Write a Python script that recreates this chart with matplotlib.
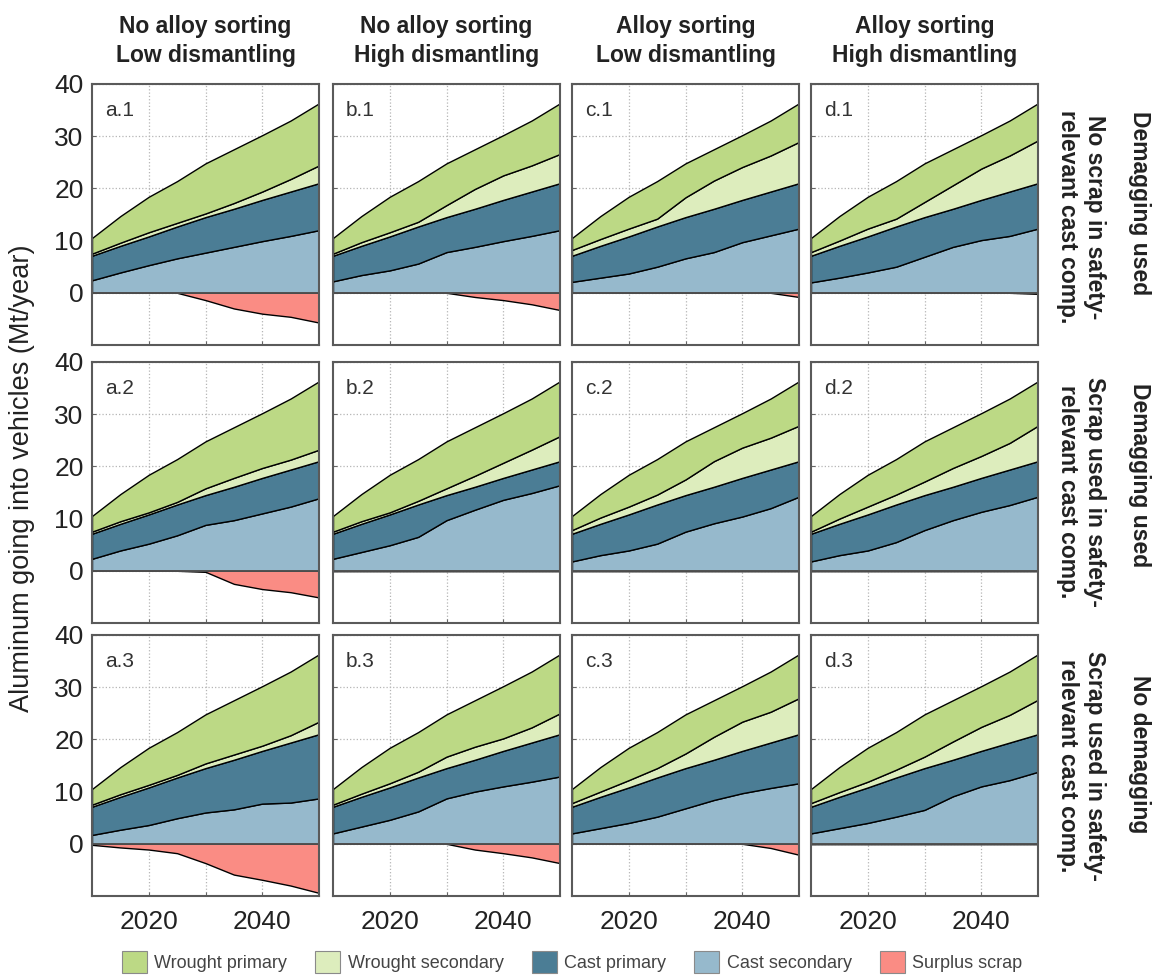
import matplotlib
matplotlib.use("Agg")
import matplotlib.pyplot as plt
from matplotlib.patches import Patch

plt.rcParams['font.family'] = ['Liberation Sans', 'DejaVu Sans']

years = [2010, 2015, 2020, 2025, 2030, 2035, 2040, 2045, 2050]

series_names = ["Wrought primary", "Wrought secondary", "Cast primary",
                "Cast secondary", "Surplus scrap"]
series_colors = ["#BCD985", "#DDEDBD", "#4B7D95", "#96B9CC", "#FA8C84"]

col_titles = ["No alloy sorting\nLow dismantling", "No alloy sorting\nHigh dismantling",
              "Alloy sorting\nLow dismantling", "Alloy sorting\nHigh dismantling"]
row_titles = ["Demagging used", "Demagging used", "No demagging"]
row_notes = ["No scrap in safety-\nrelevant cast comp.",
             "Scrap used in safety-\nrelevant cast comp.",
             "Scrap used in safety-\nrelevant cast comp."]
panel_ids = [["a.1", "b.1", "c.1", "d.1"],
             ["a.2", "b.2", "c.2", "d.2"],
             ["a.3", "b.3", "c.3", "d.3"]]

# Mt/year, one value per entry of `years`
cast_secondary = {
    "a.1": [2.4, 3.9, 5.3, 6.6, 7.7, 8.8, 9.9, 10.9, 12.0],
    "b.1": [2.2, 3.4, 4.3, 5.6, 7.8, 8.8, 9.9, 10.9, 12.0],
    "c.1": [2.1, 2.9, 3.7, 5.0, 6.6, 7.8, 9.7, 11.0, 12.3],
    "d.1": [2.0, 2.9, 3.9, 5.0, 6.9, 8.8, 10.1, 10.9, 12.3],
    "a.2": [2.3, 3.9, 5.2, 6.8, 8.8, 9.7, 11.0, 12.3, 13.9],
    "b.2": [2.3, 3.6, 4.9, 6.5, 9.7, 11.7, 13.6, 14.9, 16.4],
    "c.2": [1.8, 3.0, 3.9, 5.2, 7.5, 9.1, 10.4, 12.0, 14.2],
    "d.2": [1.8, 3.0, 3.9, 5.5, 7.8, 9.7, 11.3, 12.6, 14.2],
    "a.3": [1.7, 2.7, 3.6, 4.9, 6.0, 6.6, 7.7, 7.9, 8.7],
    "b.3": [2.0, 3.3, 4.6, 6.2, 8.7, 10.0, 11.0, 11.9, 12.9],
    "c.3": [2.0, 3.0, 4.0, 5.2, 6.8, 8.4, 9.7, 10.7, 11.6],
    "d.3": [2.0, 3.0, 4.0, 5.2, 6.5, 9.1, 11.0, 12.2, 13.8],
}
cast_primary = {
    "a.1": [4.7, 5.1, 5.5, 6.1, 6.8, 7.3, 7.9, 8.5, 9.0],
    "b.1": [4.9, 5.6, 6.5, 7.1, 6.7, 7.3, 7.9, 8.5, 9.0],
    "c.1": [5.0, 6.1, 7.1, 7.7, 7.9, 8.3, 8.1, 8.4, 8.7],
    "d.1": [5.1, 6.1, 6.9, 7.7, 7.6, 7.3, 7.7, 8.5, 8.7],
    "a.2": [4.8, 5.1, 5.6, 5.9, 5.7, 6.4, 6.8, 7.1, 7.1],
    "b.2": [4.8, 5.4, 5.9, 6.2, 4.8, 4.4, 4.2, 4.5, 4.6],
    "c.2": [5.3, 6.0, 6.9, 7.5, 7.0, 7.0, 7.4, 7.4, 6.8],
    "d.2": [5.3, 6.0, 6.9, 7.2, 6.7, 6.4, 6.5, 6.8, 6.8],
    "a.3": [5.4, 6.3, 7.2, 7.8, 8.5, 9.5, 10.1, 11.5, 12.3],
    "b.3": [5.1, 5.7, 6.2, 6.5, 5.8, 6.1, 6.8, 7.5, 8.1],
    "c.3": [5.1, 6.0, 6.8, 7.5, 7.7, 7.7, 8.1, 8.7, 9.4],
    "d.3": [5.1, 6.0, 6.8, 7.5, 8.0, 7.0, 6.8, 7.2, 7.2],
}
wrought_secondary = {
    "a.1": [0.4, 0.6, 0.8, 0.7, 0.7, 1.1, 1.6, 2.4, 3.4],
    "b.1": [0.4, 0.7, 0.8, 0.9, 2.3, 3.8, 4.7, 5.0, 5.6],
    "c.1": [1.1, 1.3, 1.5, 1.5, 3.8, 5.4, 6.3, 6.9, 7.9],
    "d.1": [0.7, 1.0, 1.5, 1.5, 2.9, 4.5, 6.0, 6.9, 8.2],
    "a.2": [0.4, 0.5, 0.4, 0.5, 1.3, 1.7, 1.9, 1.9, 2.2],
    "b.2": [0.4, 0.5, 0.4, 0.7, 1.3, 2.1, 2.9, 3.8, 4.8],
    "c.2": [0.7, 1.2, 1.5, 1.9, 3.0, 4.9, 5.8, 6.1, 6.8],
    "d.2": [0.4, 1.0, 1.5, 1.9, 2.6, 3.6, 4.2, 5.1, 6.8],
    "a.3": [0.4, 0.5, 0.5, 0.5, 0.9, 1.0, 1.0, 1.4, 2.4],
    "b.3": [0.4, 0.6, 0.8, 1.1, 2.2, 2.5, 2.4, 2.9, 4.0],
    "c.3": [0.7, 1.0, 1.4, 1.8, 2.8, 4.4, 5.6, 5.9, 6.9],
    "d.3": [0.7, 0.9, 1.1, 1.5, 2.2, 3.5, 4.6, 5.3, 6.6],
}
wrought_primary = {
    "a.1": [3.0, 5.1, 6.8, 8.0, 9.6, 10.3, 10.8, 11.2, 11.9],
    "b.1": [3.0, 5.0, 6.8, 7.8, 8.0, 7.6, 7.7, 8.6, 9.7],
    "c.1": [2.3, 4.4, 6.1, 7.2, 6.5, 6.0, 6.1, 6.7, 7.4],
    "d.1": [2.7, 4.7, 6.1, 7.2, 7.4, 6.9, 6.4, 6.7, 7.1],
    "a.2": [3.0, 5.2, 7.2, 8.2, 9.0, 9.7, 10.5, 11.7, 13.1],
    "b.2": [3.0, 5.2, 7.2, 8.0, 9.0, 9.3, 9.5, 9.8, 10.5],
    "c.2": [2.7, 4.5, 6.1, 6.8, 7.3, 6.5, 6.6, 7.5, 8.5],
    "d.2": [3.0, 4.7, 6.1, 6.8, 7.7, 7.8, 8.2, 8.5, 8.5],
    "a.3": [3.0, 5.2, 7.1, 8.2, 9.4, 10.4, 11.4, 12.2, 12.9],
    "b.3": [3.0, 5.1, 6.8, 7.6, 8.1, 8.9, 10.0, 10.7, 11.3],
    "c.3": [2.7, 4.7, 6.2, 6.9, 7.5, 7.0, 6.8, 7.7, 8.4],
    "d.3": [2.7, 4.8, 6.5, 7.2, 8.1, 7.9, 7.8, 8.3, 8.7],
}
surplus_scrap = {
    "a.1": [0, 0, 0, 0, -1.4, -3.0, -4.0, -4.6, -5.7],
    "b.1": [0, 0, 0, 0, 0, -0.8, -1.4, -2.2, -3.3],
    "c.1": [0, 0, 0, 0, 0, 0, 0, 0, -0.8],
    "d.1": [0, 0, 0, 0, 0, 0, 0, 0, -0.2],
    "a.2": [0, 0, 0, 0, -0.2, -2.5, -3.5, -4.1, -5.1],
    "b.2": [0, 0, 0, 0, 0, 0, 0, 0, 0],
    "c.2": [0, 0, 0, 0, 0, 0, 0, 0, 0],
    "d.2": [0, 0, 0, 0, 0, 0, 0, 0, 0],
    "a.3": [-0.2, -0.7, -1.1, -1.8, -3.7, -5.9, -6.9, -8.0, -9.4],
    "b.3": [0, 0, 0, 0, 0, -1.1, -1.8, -2.6, -3.7],
    "c.3": [0, 0, 0, 0, 0, 0, 0, -0.8, -2.1],
    "d.3": [0, 0, 0, 0, 0, 0, 0, 0, 0],
}

W, H = 1162, 976
fig = plt.figure(figsize=(W / 100, H / 100), dpi=100)

col_left = [92, 333, 572, 811]
row_top = [84, 362, 635]
pw, ph = 227, 261

for r in range(3):
    for c in range(4):
        pid = panel_ids[r][c]
        ax = fig.add_axes([col_left[c] / W, 1 - (row_top[r] + ph) / H, pw / W, ph / H])
        ax.stackplot(years, cast_secondary[pid], cast_primary[pid],
                     wrought_secondary[pid], wrought_primary[pid],
                     colors=[series_colors[3], series_colors[2],
                             series_colors[1], series_colors[0]],
                     edgecolor="black", linewidth=1.0, zorder=2)
        ax.fill_between(years, surplus_scrap[pid], 0, facecolor=series_colors[4],
                        edgecolor="black", linewidth=1.0, zorder=2)
        ax.axhline(0, color="#555555", lw=1.3, zorder=3)

        ax.set_xlim(2010, 2050)
        ax.set_ylim(-10, 40)
        ax.set_xticks([2020, 2030, 2040])
        ax.set_yticks([0, 10, 20, 30, 40])
        ax.grid(True, color="#b5b5b5", linestyle=":", linewidth=0.9, zorder=1)
        ax.set_axisbelow(True)
        ax.tick_params(direction="in", length=3, color="#666666",
                       labelsize=19, pad=6, labelcolor="#222222")
        ax.tick_params(axis="x", pad=10)
        if r == 2:
            ax.set_xticklabels(["2020", "", "2040"])
        else:
            ax.set_xticklabels([])
        if c != 0:
            ax.set_yticklabels([])
        for s in ax.spines.values():
            s.set_color("#5a5a5a")
            s.set_linewidth(1.5)
            s.set_zorder(4)
        ax.text(0.057, 0.897, pid, transform=ax.transAxes, fontsize=15,
                color="#333333", ha="left", va="center", zorder=5)

for c in range(4):
    fig.text((col_left[c] + pw / 2) / W, 1 - 41 / H, col_titles[c], ha="center",
             va="center", fontsize=16.5, fontweight="bold", linespacing=1.3,
             color="#222222")

row_center_a = [203, 475, 754]
row_center_b = [217, 492, 766]
for r in range(3):
    fig.text(1140 / W, 1 - row_center_a[r] / H, row_titles[r], rotation=-90,
             ha="center", va="center", fontsize=16.5, fontweight="bold", color="#222222")
    fig.text(1081 / W, 1 - row_center_b[r] / H, row_notes[r], rotation=-90,
             ha="center", va="center", fontsize=16.5, fontweight="bold",
             linespacing=1.25, color="#222222")

fig.text(22 / W, 1 - 478 / H, "Aluminum going into vehicles (Mt/year)", rotation=90,
         ha="center", va="center", fontsize=19.5, color="#222222")

handles = [Patch(facecolor=col, edgecolor="#8a8a8a", linewidth=0.8) for col in series_colors]
leg = fig.legend(handles, series_names, ncol=5, loc="center",
                 bbox_to_anchor=(572 / W, 1 - 962 / H), frameon=False, fontsize=13,
                 handlelength=1.4, handleheight=1.5, handletextpad=0.4,
                 columnspacing=1.55)
for t in leg.get_texts():
    t.set_color("#444444")

fig.savefig("out.png", dpi=100)
